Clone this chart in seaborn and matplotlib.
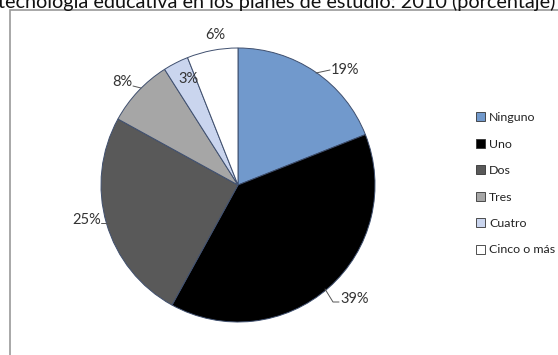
import matplotlib
matplotlib.use("Agg")
import matplotlib.pyplot as plt
import seaborn as sns
from matplotlib.patches import Rectangle

sns.set_theme(style="white")
plt.rcParams["font.family"] = ["Lato", "DejaVu Sans"]

# Number of courses on educational technology in the study plans, 2010 (%)
categories = ["Ninguno", "Uno", "Dos", "Tres", "Cuatro", "Cinco o más"]
shares = [19, 39, 25, 8, 3, 6]
colors = ["#7199CC", "#000000", "#595959", "#A6A6A6", "#CAD5EE", "#FFFFFF"]
title = "tecnología educativa en los planes de estudio: 2010 (porcentaje)"

W, H = 558, 355
fig = plt.figure(figsize=(W / 100, H / 100), dpi=100)
fig.patch.set_facecolor("white")

# chart frame
fig.add_artist(Rectangle((10 / W, -0.05), 1.0, 1 - 10 / H + 0.05,
                         transform=fig.transFigure, fill=False,
                         edgecolor="#9A9A9A", linewidth=1.2))

fig.text(-2 / W, 1 - 8 / H, title, ha="left", va="baseline",
         fontsize=14.3, color="#111111")

cx, cy, r = 238, 185, 137
ax = fig.add_axes([(cx - r) / W, (H - cy - r) / H, 2 * r / W, 2 * r / H])
wedges, _ = ax.pie(shares, colors=colors, startangle=90, counterclock=False,
                   radius=1.0,
                   wedgeprops=dict(edgecolor="#3F4F6E", linewidth=0.7))
ax.set_xlim(-1, 1)
ax.set_ylim(-1, 1)
ax.set_aspect("auto")
ax.axis("off")


def px(x, y):
    return (x - cx) / r, (cy - y) / r


label_style = dict(fontsize=10.5, color="#333333", va="center")
line_style = dict(color="#555555", linewidth=0.7, clip_on=False)

# 19%
ax.text(*px(331, 70), f"{shares[0]}%", ha="left", **label_style)
ax.plot(*zip(px(316, 73), px(330, 70)), **line_style)
# 39%
ax.text(*px(340, 299), f"{shares[1]}%", ha="left", **label_style)
ax.plot(*zip(px(325, 289), px(333, 302), px(339, 302)), **line_style)
# 25%
ax.text(*px(101, 220), f"{shares[2]}%", ha="right", **label_style)
ax.plot(*zip(px(101, 223), px(109, 223)), **line_style)
# 8%
ax.text(*px(132, 82), f"{shares[3]}%", ha="right", **label_style)
ax.plot(*zip(px(133, 86), px(141, 88)), **line_style)
# 3% (inside the slice)
ax.text(*px(188, 79), f"{shares[4]}%", ha="center", **label_style)
# 6%
ax.text(*px(215, 35), f"{shares[5]}%", ha="center", **label_style)

handles = [Rectangle((0, 0), 1, 1, facecolor=c, edgecolor="#333333",
                     linewidth=0.6) for c in colors]
fig.legend(handles, categories, loc="upper left",
           bbox_to_anchor=(470 / W, 1 - 106 / H), frameon=False,
           fontsize=8.9, handlelength=0.75, handleheight=0.75,
           handletextpad=0.3, labelspacing=1.25, borderpad=0,
           labelcolor="#222222")

fig.savefig("out.png", dpi=100, facecolor="white")
